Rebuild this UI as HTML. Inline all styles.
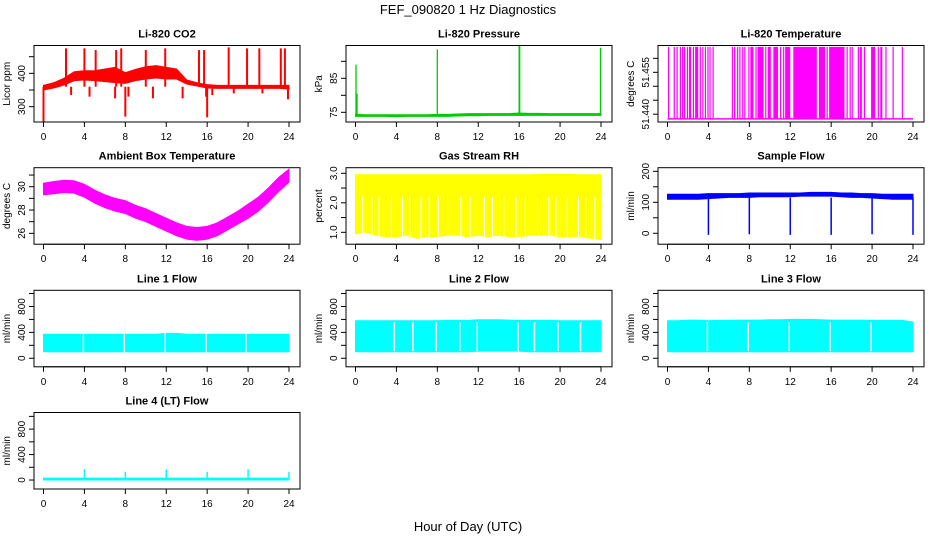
<!DOCTYPE html>
<html><head><meta charset="utf-8">
<style>
html,body{margin:0;padding:0;background:#fff;}
svg{display:block;font-family:"Liberation Sans",Arial,sans-serif;}
</style></head>
<body>
<svg id="fig" width="936" height="540" viewBox="0 0 936 540">
<text x="468" y="14" text-anchor="middle" font-size="13">FEF_090820  1 Hz Diagnostics</text>
<text x="468" y="531" text-anchor="middle" font-size="13">Hour of Day (UTC)</text>
</svg>
<script>
// ---- shared axis ----
const hourTicks = [0,4,8,12,16,20,24];
const hours = [0,1,2,3,4,5,6,7,8,9,10,11,12,13,14,15,16,17,18,19,20,21,22,23,24];

// ---- Li-820 CO2 ----
const co2Lo = [350,356,365,378,380,378,375,372,370,378,383,386,383,383,368,362,356,355,355,355,355,355,355,355,353];
const co2Hi = [364,372,385,405,408,408,413,418,402,412,420,423,418,413,380,372,366,364,364,364,364,364,364,364,364];
const co2UpT = [2.2,4.0,5.1,7.1,7.6,10.0,11.9,15.2,15.7,18.1,19.9,21.1,23.2,23.6];
const co2UpV = [475,475,470,470,475,470,475,470,470,478,475,475,475,475];
const co2DnT = [0.0,2.7,4.5,7.0,8.0,8.3,10.7,13.6,15.9,16.0,16.5,18.6,21.4,23.9];
const co2DnV = [255,335,330,325,270,330,325,325,330,268,335,340,340,322];

// ---- Li-820 Pressure ----
const presLo = [73.8,73.8,73.8,73.8,73.7,73.8,73.8,73.8,73.8,73.8,73.9,74.0,74.0,74.1,74.1,74.1,74.1,74.1,74.1,74.1,74.1,74.1,74.1,74.1,74.1];
const presHi = [74.4,74.3,74.3,74.3,74.3,74.3,74.3,74.3,74.4,74.4,74.5,74.6,74.6,74.6,74.6,74.6,74.8,74.7,74.7,74.6,74.6,74.6,74.6,74.6,74.6];
const presSpkT = [0.05,0.15,8.0,16.0,16.05,23.95];
const presSpkV = [89,80.5,93.5,94.5,94.5,94];

// ---- Li-820 Temperature (intervals at high reading) ----
const tempLowV = 51.4383;
const tempHighV = 51.4641;
const tempHighIntervals = [[0.05,0.12],[0.6,0.66],[0.88,0.95],[1.2,1.26],[1.42,1.5],[1.6,1.66],[1.9,1.96],[2.1,2.3],[2.48,2.55],[2.7,3.0],[3.15,3.22],[3.4,3.46],[3.65,3.72],[3.9,3.96],[4.1,4.16],[4.4,4.46],
[6.28,6.34],[6.5,6.56],[6.8,6.86],[7.02,7.08],[7.3,7.36],[7.5,7.56],[7.9,7.96],[8.1,8.4],[8.6,8.66],[8.8,9.4],[9.55,9.62],[9.8,10.1],[10.35,10.8],[11.0,11.06],[11.3,11.36],[11.5,12.0],[12.3,14.6],[14.8,15.4],[15.55,15.62],[15.8,17.3],[17.5,17.56],[17.8,17.86],[18.0,18.06],[18.6,18.66],[18.8,19.0],[19.2,19.26],[19.9,20.3],[20.55,20.62],[20.8,21.0],[21.3,21.36],[22.0,22.06],[22.9,22.96]];

// ---- Ambient Box Temperature ----
const ambLo = [29.3,29.4,29.5,29.45,29.1,28.6,28.2,27.9,27.7,27.3,27.0,26.6,26.2,25.8,25.5,25.4,25.5,25.8,26.3,26.8,27.3,27.9,28.7,29.6,30.4];
const ambHi = [30.3,30.45,30.55,30.5,30.2,29.7,29.3,29.0,28.8,28.4,28.1,27.7,27.3,26.9,26.6,26.5,26.6,26.9,27.4,27.9,28.5,29.1,29.9,30.8,31.5];

// ---- Gas Stream RH ----
const rhLo = [0.95,1.0,0.9,0.85,0.85,0.9,0.8,0.85,0.85,0.9,0.9,0.85,0.9,0.85,0.9,0.85,0.85,0.9,0.9,0.9,0.85,0.85,0.85,0.8,0.75];
const rhHi = [2.95,2.95,2.95,2.95,2.95,2.95,2.95,2.95,2.95,2.95,2.95,2.95,2.95,2.95,2.95,2.95,2.95,2.95,2.97,2.97,2.97,2.97,2.95,2.95,2.95];
const rhGapT = [0.7,1.6,2.3,3.5,4.6,5.3,6.4,7.2,8.1,9.0,10.3,11.2,12.6,13.4,14.5,15.7,16.6,17.8,18.9,19.6,20.7,21.8,22.5,23.4];

// ---- Sample Flow ----
const sfLo = [110,110,110,110,112,114,116,116,116,118,118,118,118,120,120,120,120,118,116,116,114,112,110,110,110];
const sfHi = [126,126,126,126,128,128,128,128,130,130,130,130,130,130,132,132,132,130,130,128,128,126,126,126,126];
const sfDipT = [4,8,12,16,20,24];
const sfDipV = [-5,-3,-5,-5,-3,-5];

// ---- Line flows ----
const l1Lo = [100,100,100,100,100,100,100,100,100,100,100,100,100,100,100,100,100,100,100,100,100,100,100,100,100];
const l1Hi = [370,370,370,370,370,370,370,370,370,370,370,370,385,385,370,370,370,370,370,370,370,370,370,370,370];
const l1Gap = [3.9,7.9,11.9,15.9,19.8];
const l2Lo = [100,100,100,100,100,100,100,100,100,100,100,100,110,110,110,110,110,100,100,100,100,100,100,100,100];
const l2Hi = [580,580,580,580,580,580,580,580,580,585,585,585,595,595,595,590,585,585,585,585,580,580,580,580,580];
const l2Gap = [3.8,5.6,7.9,10.2,11.9,15.9,17.5,19.8,22.0];
const l3Lo = [100,100,100,100,100,100,100,100,100,100,100,100,100,100,100,100,100,100,100,100,100,100,100,100,100];
const l3Hi = [580,580,590,590,580,585,585,590,590,590,595,595,600,600,600,595,590,590,590,590,585,585,585,585,560];
const l3Gap = [3.9,7.9,11.9,15.9,19.9];
const l4Lo = [0,0,0,0,0,0,0,0,0,0,0,0,0,0,0,0,0,0,0,0,0,0,0,0,0];
const l4Hi = [30,30,30,30,30,30,30,30,30,30,30,30,30,30,30,30,30,30,30,30,30,30,30,30,30];
const l4SpkT = [4,8,12,16,20,24];
const l4SpkV = [170,130,170,130,170,130];

// ---- layout ----
const NS = "http://www.w3.org/2000/svg";
const svg = document.getElementById('fig');
const rowTop = [45.5,167.7,290.3,412.5];
const boxH = 76.5;
function mk(tag, attrs, parent){
  const e = document.createElementNS(NS, tag);
  for (const k in attrs) e.setAttribute(k, attrs[k]);
  (parent||svg).appendChild(e);
  return e;
}

function panel(cfg){
  const g = mk('g', {});
  
  
  const bx = 34 + 312*cfg.col, bw = 266, by = rowTop[cfg.row];
  const x0 = 43.5 + 312*cfg.col, xs = 245.5/24;
  const X = t => x0 + t*xs;
  const Y = v => by + boxH - (v - cfg.ylim[0])/(cfg.ylim[1]-cfg.ylim[0])*boxH;
  const clipId = 'c' + cfg.name;
  const cp = mk('clipPath', {id: clipId}, g);
  mk('rect', {x: bx, y: by, width: bw, height: boxH}, cp);
  const d = mk('g', {'clip-path': 'url(#'+clipId+')'}, g);
  
  
  cfg.draw(d, X, Y);
  const box = mk('rect', {x: bx, y: by, width: bw, height: boxH, fill: 'none', stroke: '#000', 'stroke-width': 1}, g);
  
  
  const by2 = by + boxH;
  mk('line', {x1: X(0), x2: X(24), y1: by2, y2: by2, stroke: '#000'}, g);
  hourTicks.forEach(t => {
    mk('line', {x1: X(t), x2: X(t), y1: by2, y2: by2+5, stroke: '#000'}, g);
    const tx = mk('text', {x: X(t), y: by2+18, 'text-anchor': 'middle', 'font-size': 10}, g);
    tx.textContent = t;
    
    
  });
  const yt = cfg.yticks;
  mk('line', {x1: bx, x2: bx, y1: Y(yt[0]), y2: Y(yt[yt.length-1]), stroke: '#000'}, g);
  yt.forEach((v,i) => {
    mk('line', {x1: bx-5, x2: bx, y1: Y(v), y2: Y(v), stroke: '#000'}, g);
    if (cfg.ylabels[i] !== '') {
      const tx = mk('text', {x: 0, y: 0, 'text-anchor': 'middle', 'font-size': 10,
        transform: 'translate(' + (bx-9) + ',' + Y(v) + ') rotate(-90)'}, g);
      tx.textContent = cfg.ylabels[i];
      
      
    }
  });
  const yl = mk('text', {x: 0, y: 0, 'text-anchor': 'middle', 'font-size': 10,
    transform: 'translate(' + (bx-24) + ',' + (by+boxH/2) + ') rotate(-90)'}, g);
  yl.textContent = cfg.ylab;
  
  
  const tt = mk('text', {x: bx+bw/2, y: by-8, 'text-anchor': 'middle', 'font-size': 11, 'font-weight': 'bold'}, g);
  tt.textContent = cfg.title;
  
  
}

function band(g, X, Y, lo, hi, color){
  let pts = [];
  hours.forEach((t,i) => pts.push(X(t)+','+Y(hi[i])));
  for (let i = hours.length-1; i >= 0; i--) pts.push(X(hours[i])+','+Y(lo[i]));
  const p = mk('polygon', {points: pts.join(' '), fill: color, stroke: color, 'stroke-width': 1}, g);
  
  
}
function spikes(g, X, Y, ts, vs, base, color, w){
  ts.forEach((t,i) => {
    const l = mk('line', {x1: X(t), x2: X(t), y1: Y(base), y2: Y(vs[i]), stroke: color, 'stroke-width': w||2}, g);
    
    
  });
}
function gaps(g, X, Y, ts, lo, hi, w){
  ts.forEach(t => {
    const l = mk('line', {x1: X(t), x2: X(t), y1: Y(lo), y2: Y(hi), stroke: '#fff', 'stroke-width': w||1.5}, g);
    
    
  });
}

const RED='#ff0000', GRN='#00cc00', MAG='#ff00ff', YEL='#ffff00', BLU='#0000ff', CY='#00ffff';

panel({name:'co2-panel', col:0, row:0, title:'Li-820 CO2', ylab:'Licor ppm', ylim:[254,483.6],
  yticks:[300,350,400,450], ylabels:['300','','400',''],
  draw:(g,X,Y)=>{ band(g,X,Y,co2Lo,co2Hi,RED); spikes(g,X,Y,co2UpT,co2UpV,360,RED); spikes(g,X,Y,co2DnT,co2DnV,360,RED); }});
panel({name:'pressure-panel', col:1, row:0, title:'Li-820 Pressure', ylab:'kPa', ylim:[72.15,94.65],
  yticks:[75,80,85,90], ylabels:['75','','85',''],
  draw:(g,X,Y)=>{ band(g,X,Y,presLo,presHi,GRN); spikes(g,X,Y,presSpkT,presSpkV,74,GRN,1.3); }});
panel({name:'li820-temp-panel', col:2, row:0, title:'Li-820 Temperature', ylab:'degrees C', ylim:[51.4372,51.4646],
  yticks:[51.440,51.445,51.450,51.455,51.460], ylabels:['51.440','','','51.455',''],
  draw:(g,X,Y)=>{
    const b = mk('line',{x1:X(0),x2:X(24),y1:Y(tempLowV),y2:Y(tempLowV),stroke:MAG,'stroke-width':1.5},g);
    
    
    tempHighIntervals.forEach(iv=>{
      const r = mk('rect',{x:X(iv[0]),y:Y(tempHighV),width:Math.max(1.2,X(iv[1])-X(iv[0])),height:Y(tempLowV)-Y(tempHighV),fill:MAG},g);
      
      
    });
  }});
panel({name:'ambient-temp-panel', col:0, row:1, title:'Ambient Box Temperature', ylab:'degrees C', ylim:[25.07,31.63],
  yticks:[26,27,28,29,30,31], ylabels:['26','','28','','30',''],
  draw:(g,X,Y)=>{ band(g,X,Y,ambLo,ambHi,MAG); }});
panel({name:'rh-panel', col:1, row:1, title:'Gas Stream RH', ylab:'percent', ylim:[0.597,3.19],
  yticks:[1.0,1.5,2.0,2.5,3.0], ylabels:['1.0','','2.0','','3.0'],
  draw:(g,X,Y)=>{ band(g,X,Y,rhLo,rhHi,YEL); gaps(g,X,Y,rhGapT,0.7,2.2,1); }});
panel({name:'sample-flow-panel', col:2, row:1, title:'Sample Flow', ylab:'ml/min', ylim:[-35.2,211.6],
  yticks:[0,50,100,150,200], ylabels:['0','','100','','200'],
  draw:(g,X,Y)=>{ band(g,X,Y,sfLo,sfHi,BLU); spikes(g,X,Y,sfDipT,sfDipV,115,BLU,1.5); }});
const flowTicks=[0,200,400,600,800,1000], flowLabels=['0','','400','','800',''];
panel({name:'line1-flow-panel', col:0, row:2, title:'Line 1 Flow', ylab:'ml/min', ylim:[-132,1050],
  yticks:flowTicks, ylabels:flowLabels,
  draw:(g,X,Y)=>{ band(g,X,Y,l1Lo,l1Hi,CY); gaps(g,X,Y,l1Gap,100,390); }});
panel({name:'line2-flow-panel', col:1, row:2, title:'Line 2 Flow', ylab:'ml/min', ylim:[-132,1050],
  yticks:flowTicks, ylabels:flowLabels,
  draw:(g,X,Y)=>{ band(g,X,Y,l2Lo,l2Hi,CY); gaps(g,X,Y,l2Gap,110,560); }});
panel({name:'line3-flow-panel', col:2, row:2, title:'Line 3 Flow', ylab:'ml/min', ylim:[-132,1050],
  yticks:flowTicks, ylabels:flowLabels,
  draw:(g,X,Y)=>{ band(g,X,Y,l3Lo,l3Hi,CY); gaps(g,X,Y,l3Gap,110,560); }});
panel({name:'line4-flow-panel', col:0, row:3, title:'Line 4 (LT) Flow', ylab:'ml/min', ylim:[-141,1061],
  yticks:flowTicks, ylabels:flowLabels,
  draw:(g,X,Y)=>{ band(g,X,Y,l4Lo,l4Hi,CY); spikes(g,X,Y,l4SpkT,l4SpkV,15,CY,1.5); }});
</script>
</body></html>
